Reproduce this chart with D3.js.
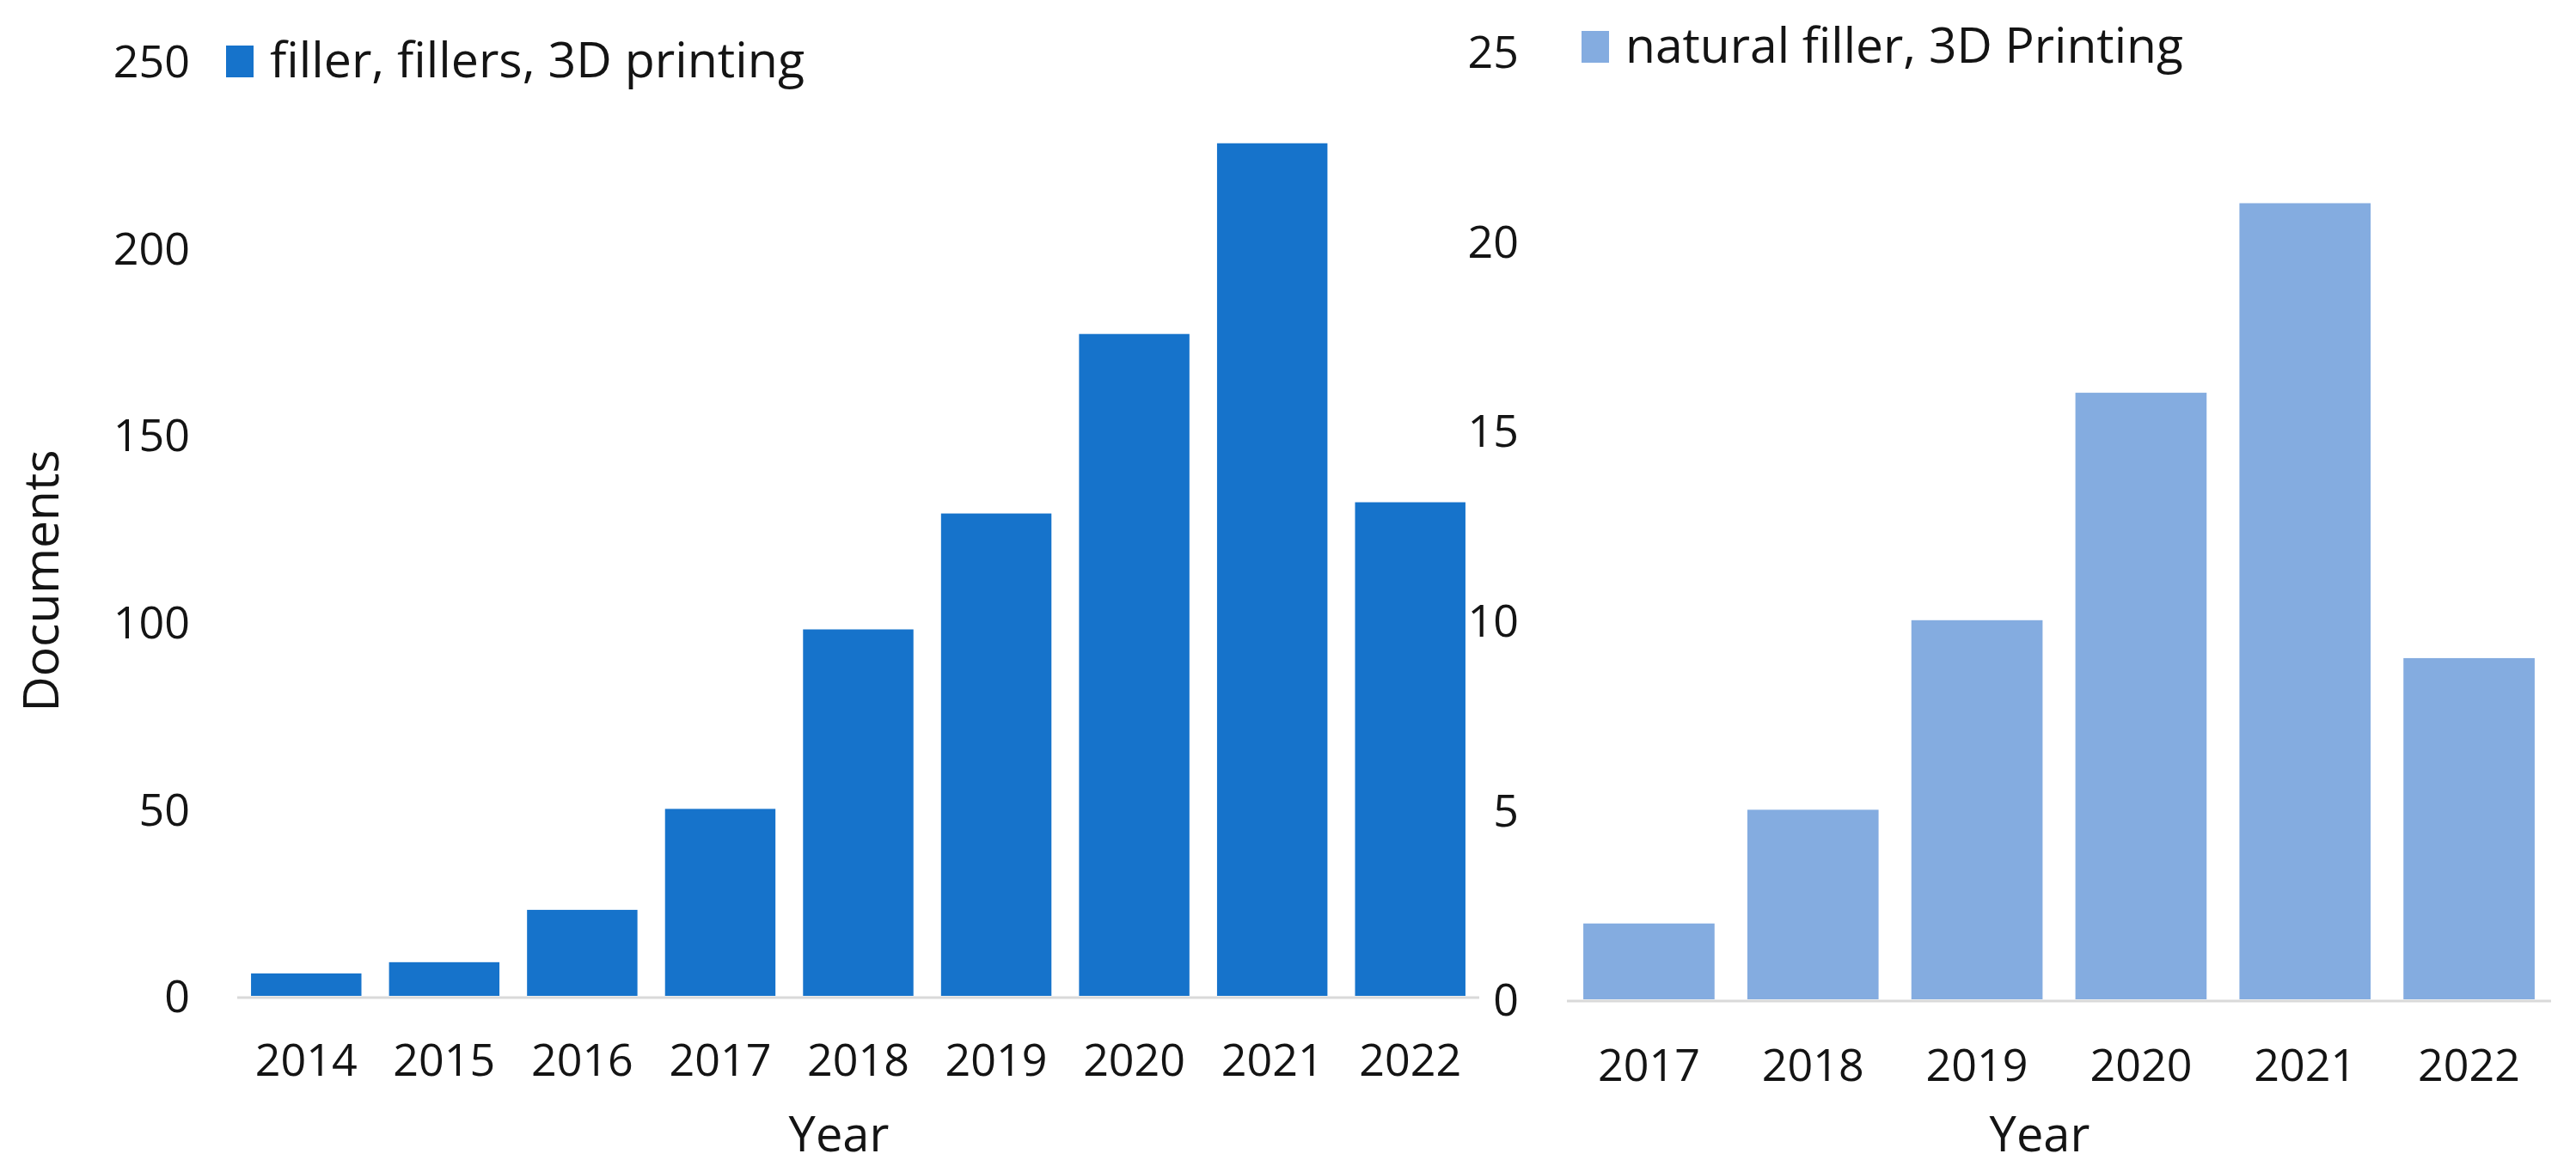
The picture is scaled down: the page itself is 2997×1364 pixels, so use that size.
<!DOCTYPE html>
<html>
<head>
<meta charset="utf-8">
<script src="https://cdn.jsdelivr.net/npm/d3@7"></script>
<style>
  html, body { margin: 0; padding: 0; background: #ffffff; }
  svg { display: block; }
  text { font-family: "Open Sans", "Noto Sans", sans-serif; fill: #141414; }
</style>
</head>
<body>
<svg id="chart" width="2997" height="1364"></svg>
<script>
// ---- Data ----
const leftYears = ["2014","2015","2016","2017","2018","2019","2020","2021","2022"];
const leftValues = [6, 9, 23, 50, 98, 129, 177, 228, 132];
const leftTicks = [0, 50, 100, 150, 200, 250];
const leftSeriesName = "filler, fillers, 3D printing";

const rightYears = ["2017","2018","2019","2020","2021","2022"];
const rightValues = [2, 5, 10, 16, 21, 9];
const rightTicks = [0, 5, 10, 15, 20, 25];
const rightSeriesName = "natural filler, 3D Printing";

const yTitle = "Documents";
const xTitle = "Year";

// ---- Layout ----
const svg = d3.select("#chart");
const W = 2997, H = 1364;
svg.append("rect").attr("width", W).attr("height", H).attr("fill", "#ffffff");

const tickFont = 52;
const titleFont = 56;

function fitText(sel, targetWidth) {
  const node = sel.node();
  const fs = parseFloat(sel.attr("font-size"));
  const w = node.getComputedTextLength();
  if (w > 0) sel.attr("font-size", (fs * targetWidth / w).toFixed(2));
}

function drawPanel(cfg) {
  const g = svg.append("g");
  const x = d3.scaleBand().domain(cfg.years).range([cfg.x0, cfg.x1])
    .paddingInner(0.2).paddingOuter(0.1);
  const y = d3.scaleLinear().domain([0, cfg.yMax]).range([cfg.yBase, cfg.yTop]);

  // bars
  g.selectAll("rect.bar").data(cfg.values).join("rect")
    .attr("class", "bar")
    .attr("x", (d, i) => x(cfg.years[i]))
    .attr("width", x.bandwidth())
    .attr("y", d => y(d))
    .attr("height", d => y(0) - y(d))
    .attr("fill", cfg.color);

  // baseline
  g.append("line")
    .attr("x1", cfg.x0).attr("x2", cfg.x1)
    .attr("y1", y(0) + 2).attr("y2", y(0) + 2)
    .attr("stroke", "#d9d9d9").attr("stroke-width", 3);

  // x axis labels
  const xAxis = d3.axisBottom(x).tickSize(0).tickPadding(0);
  const xg = g.append("g").attr("transform", `translate(0,${cfg.xLabelY})`).call(xAxis);
  xg.select(".domain").remove();
  xg.selectAll("text").attr("font-size", tickFont).attr("dy", 0)
    .attr("font-family", "'Open Sans', 'Noto Sans', sans-serif").attr("fill", "#141414");

  // y axis labels
  const yAxis = d3.axisLeft(y).tickValues(cfg.ticks).tickSize(0).tickPadding(0);
  const yg = g.append("g").attr("transform", `translate(${cfg.yLabelX},0)`).call(yAxis);
  yg.select(".domain").remove();
  yg.selectAll("text").attr("font-size", tickFont).attr("dy", "0.36em")
    .attr("font-family", "'Open Sans', 'Noto Sans', sans-serif").attr("fill", "#141414");

  // legend
  g.append("rect")
    .attr("x", cfg.legX).attr("y", cfg.legY - 37)
    .attr("width", 32).attr("height", 37)
    .attr("fill", cfg.color);
  const lt = g.append("text")
    .attr("x", cfg.legTextX).attr("y", cfg.legY)
    .attr("font-size", 54)
    .text(cfg.name);
  fitText(lt, cfg.legTextW);

  // x title
  g.append("text")
    .attr("x", cfg.xTitleX).attr("y", 1340)
    .attr("text-anchor", "middle")
    .attr("font-size", titleFont)
    .text(xTitle);
}

drawPanel({
  years: leftYears, values: leftValues, ticks: leftTicks, name: leftSeriesName,
  yMax: 250, x0: 276, x1: 1721, yBase: 1159, yTop: 71,
  color: "#1673cb", xLabelY: 1252, yLabelX: 221,
  legX: 263, legY: 90, legTextX: 314, legTextW: 622, xTitleX: 976
});

drawPanel({
  years: rightYears, values: rightValues, ticks: rightTicks, name: rightSeriesName,
  yMax: 25, x0: 1823, x1: 2968, yBase: 1163, yTop: 60,
  color: "#84ace0", xLabelY: 1258, yLabelX: 1767,
  legX: 1840, legY: 73, legTextX: 1891, legTextW: 649, xTitleX: 2373
});

// y title
svg.append("text")
  .attr("transform", "translate(68,676) rotate(-90)")
  .attr("text-anchor", "middle")
  .attr("font-size", 57)
  .text(yTitle);
</script>
</body>
</html>
